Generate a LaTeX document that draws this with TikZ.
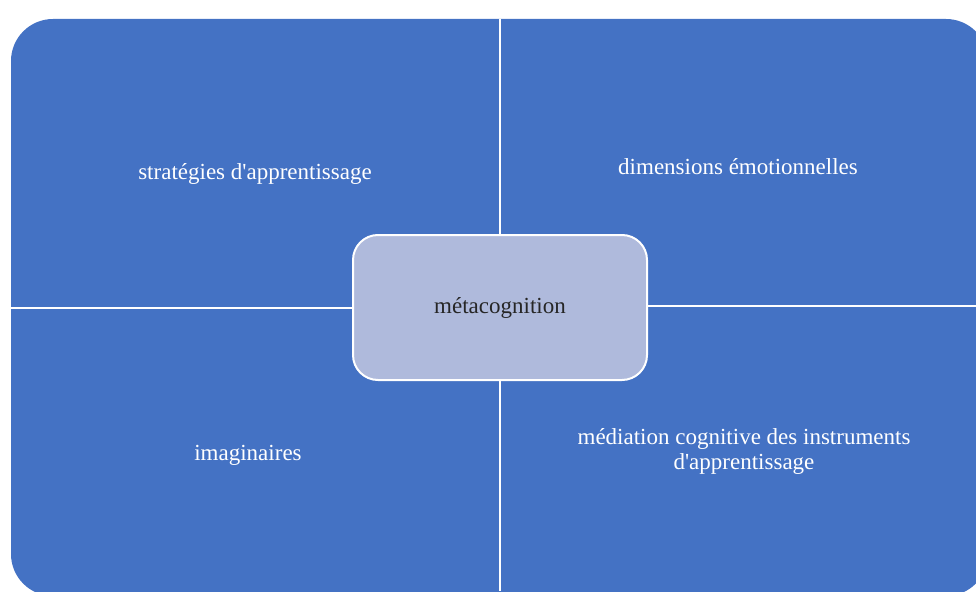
\documentclass[tikz,border=0pt]{standalone}
\usepackage{fontspec}
\setmainfont{Liberation Serif}[Ligatures=TeXOff]
\definecolor{quadblue}{RGB}{68,114,196}
\definecolor{hubfill}{RGB}{175,186,220}
\tikzset{
  quadtext/.style={text=white, font=\fontsize{23}{25}\selectfont, align=center},
  hub/.style={draw=white, line width=2pt, fill=hubfill, rounded corners=25pt,
    minimum width=294pt, minimum height=145pt,
    font=\fontsize{23}{25}\selectfont, text=black!85}
}
\begin{document}
\begin{tikzpicture}[x=1pt, y=-1pt]
    \useasboundingbox (0,0) rectangle (976,591);
    \begin{scope}
    \clip (0,0) rectangle (976,591);
    \fill[quadblue, rounded corners=42pt] (11,19) rectangle (988,596);
    \end{scope}

    % white gaps between the four quarters
    \draw[white, line width=2pt] (500,19) -- (500,591);
    \draw[white, line width=2pt] (11,308) -- (500,308);
    \draw[white, line width=2pt] (500,306) -- (976,306);

    \node[quadtext] (strat) at (255,174) {stratégies d'apprentissage};
    \node[quadtext] (emot) at (738,167) {dimensions émotionnelles};
    \node[quadtext] (imag) at (248,455) {imaginaires};
    \node[quadtext] (medi) at (744,451) {médiation cognitive des instruments\\d'apprentissage};

    \node[hub] (meta) at (500,307.5) {\raisebox{-2pt}{métacognition}};
\end{tikzpicture}
\end{document}
